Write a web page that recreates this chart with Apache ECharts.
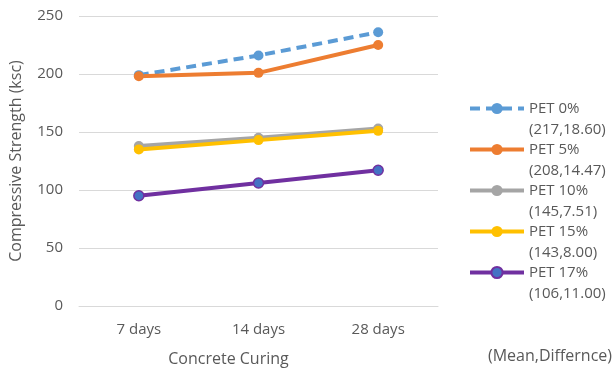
<!DOCTYPE html>
<html><head><meta charset="utf-8">
<script src="https://cdn.jsdelivr.net/npm/echarts@6/dist/echarts.min.js"></script>
<style>html,body{margin:0;padding:0;background:#fff}#c{width:612px;height:372px}</style>
</head><body><div id="c"></div>
<script>
const categories = ['7 days', '14 days', '28 days'];
const yTicks = [0, 50, 100, 150, 200, 250];
const names = ['PET 0%', 'PET 5%', 'PET 10%', 'PET 15%', 'PET 17%'];
const pet0 = [199, 216, 236];
const pet5 = [198, 201, 225];
const pet10 = [138, 145, 153];
const pet15 = [135, 143, 151];
const pet17 = [95, 106, 117];
const stats = ['(217,18.60)', '(208,14.47)', '(145,7.51)', '(143,8.00)', '(106,11.00)'];
const colors = ['#5B9BD5', '#ED7D31', '#A5A5A5', '#FFC000', '#7030A0'];
const values = [pet0, pet5, pet10, pet15, pet17];
const font = 'Open Sans';
const txt = '#595959';

const series = names.map((n, i) => ({
  name: n, type: 'line', data: values[i],
  symbol: 'circle', symbolSize: 10,
  lineStyle: { width: 4, color: colors[i], type: i === 0 ? [10, 6] : 'solid' },
  itemStyle: i === 4 ? { color: '#4472C4', borderColor: '#7030A0', borderWidth: 1.5 } : { color: colors[i] },
  emphasis: { disabled: true }
}));

const chart = echarts.init(document.getElementById('c'), null, { renderer: 'canvas' });
chart.setOption({
  animation: false,
  textStyle: { fontFamily: font },
  grid: { left: 78, right: 174, top: 16, bottom: 66 },
  title: { text: '(Mean,Differnce)', right: 0, top: 348, padding: 0, textStyle: { fontFamily: font, fontSize: 16, fontWeight: 'normal', color: txt } },
  legend: {
    orient: 'vertical', left: 468, top: 77, padding: 0, itemWidth: 54, itemHeight: 14, itemGap: -22,
    data: names,
    lineStyle: { width: 4 },
    formatter: n => '\n' + n + '\n' + stats[names.indexOf(n)],
    textStyle: { fontFamily: font, fontSize: 15, color: txt, lineHeight: 21 }
  },
  xAxis: {
    type: 'category', data: categories, boundaryGap: true,
    name: 'Concrete Curing', nameLocation: 'middle', nameGap: 45,
    nameTextStyle: { fontFamily: font, fontSize: 16, color: txt, padding: [0, 60, 0, 0] },
    axisLine: { lineStyle: { color: '#D9D9D9', width: 1 } },
    axisTick: { show: false },
    axisLabel: { fontFamily: font, fontSize: 15, color: txt, margin: 16 }
  },
  yAxis: {
    type: 'value', min: yTicks[0], max: yTicks[yTicks.length - 1], interval: 50,
    name: 'Compressive Strength (ksc)', nameLocation: 'middle', nameGap: 55,
    nameTextStyle: { fontFamily: font, fontSize: 16, color: txt },
    axisLine: { show: false }, axisTick: { show: false },
    splitLine: { lineStyle: { color: '#D9D9D9', width: 1 } },
    axisLabel: { fontFamily: font, fontSize: 15, color: txt, margin: 16 }
  },
  series: series
});
</script></body></html>
